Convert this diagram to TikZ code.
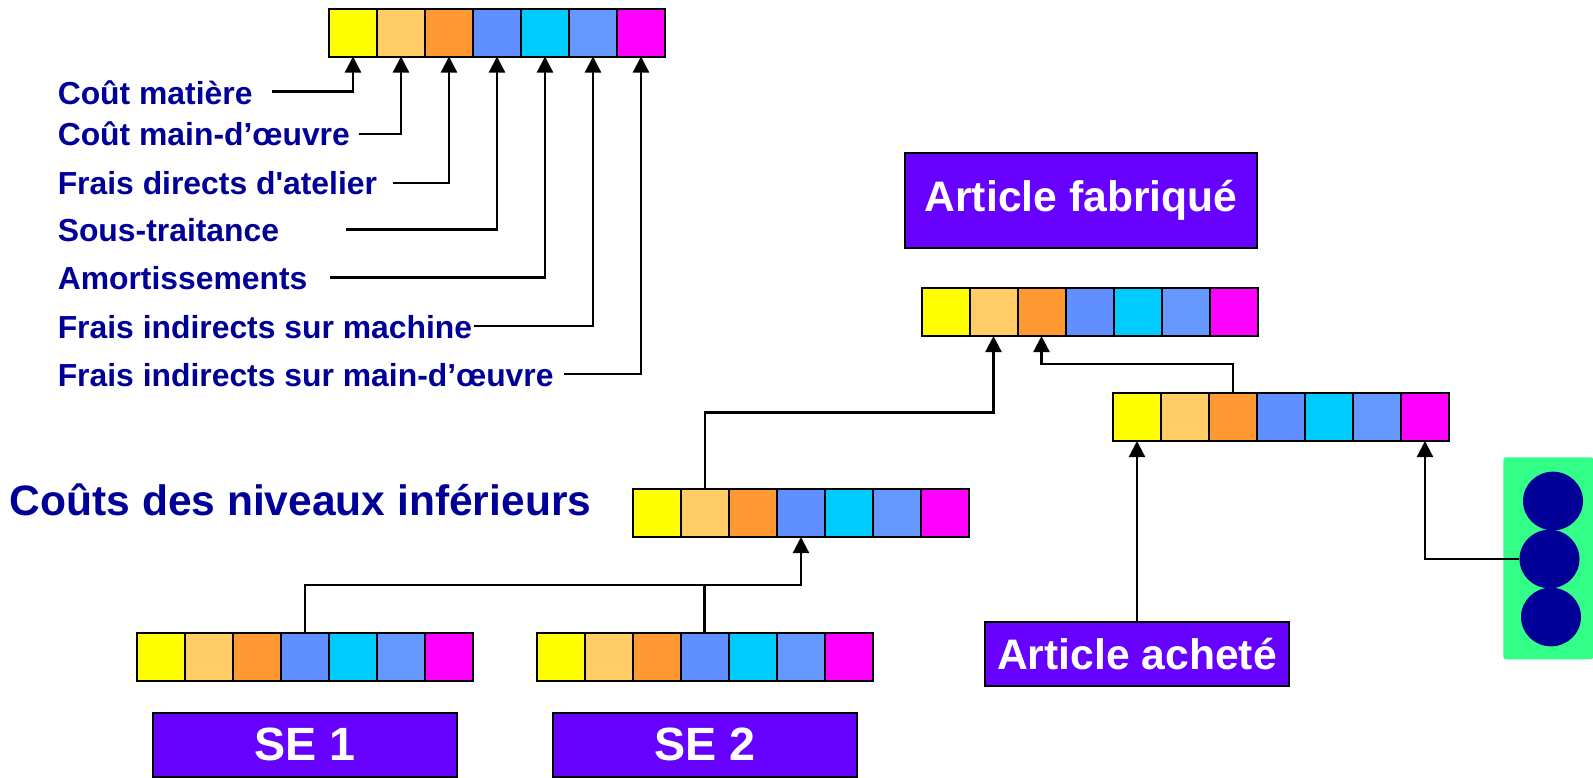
\documentclass[tikz,border=0pt]{standalone}
\usepackage{fontspec}
\setmainfont{Liberation Sans}
\usetikzlibrary{arrows.meta,shapes.geometric}
\definecolor{navytxt}{HTML}{000099}
\definecolor{violetbox}{HTML}{6600FF}
\definecolor{greenpanel}{HTML}{33FF88}
\definecolor{cA}{HTML}{FFFF00}
\definecolor{cB}{HTML}{FFCC66}
\definecolor{cC}{HTML}{FF9933}
\definecolor{cD}{HTML}{6090FF}
\definecolor{cE}{HTML}{00CCFF}
\definecolor{cF}{HTML}{6699FF}
\definecolor{cG}{HTML}{FF00FF}
\tikzset{
  cellbox/.style={draw=black,line width=1.5pt,minimum width=36pt,minimum height=36pt,inner sep=0pt,outer sep=0pt,anchor=north west},
  costlabel/.style={anchor=base west,inner sep=0pt,text=navytxt,font=\bfseries\fontsize{23.9}{24}\selectfont},
  titlelabel/.style={anchor=base west,inner sep=0pt,text=navytxt,font=\bfseries\fontsize{31.9}{32}\selectfont},
  itembox/.style={draw=black,line width=1.5pt,fill=violetbox,text=white,inner sep=0pt,outer sep=0pt,font=\bfseries\fontsize{32}{32}\selectfont},
  link/.style={line width=1.7pt,draw=black},
  linkarrow/.style={link,-{Triangle[length=12pt,width=12pt]}},
  ball/.style={ellipse,fill=navytxt,inner sep=0pt,minimum width=45pt,minimum height=44pt}
}
\newcommand{\costbar}[3]{%
  \foreach \i/\c in {1/cA,2/cB,3/cC,4/cD,5/cE,6/cF,7/cG}{
    \node[cellbox,fill=\c] (#1\i) at ({#2+48*(\i-1)},#3) {};
  }%
}
\begin{document}
\begin{tikzpicture}[x=0.75pt,y=-0.75pt]
\useasboundingbox (0,0) rectangle (1593,778);
% panel
\node[draw=none,fill=greenpanel,rounded corners=2pt,minimum width=67.5pt,minimum height=151.5pt,inner sep=0pt,anchor=north west] (panel) at (1503,457) {};
\node[ball] (b1) at (1553,501) {};
\node[ball] (b2) at (1549.5,559) {};
\node[ball] (b3) at (1551,617) {};
% bars
\costbar{T}{329}{8.5}
\costbar{F}{921.5}{288}
\costbar{A}{1113}{393}
\costbar{L}{633}{489}
\costbar{P}{137}{633}
\costbar{Q}{536.5}{633}
% boxes
\node[itembox,minimum width=264pt,minimum height=71pt] (fab) at (1081,200.5) {\raisebox{-3pt}{Article fabriqué}};
\node[itembox,minimum width=228pt,minimum height=48pt] (ach) at (1137,654) {\raisebox{-1pt}{Article acheté}};
\node[itembox,minimum width=228pt,minimum height=48pt,font=\bfseries\fontsize{35}{35}\selectfont] (se1) at (304.75,744.5) {\raisebox{-2pt}{SE 1}};
\node[itembox,minimum width=228pt,minimum height=48pt,font=\bfseries\fontsize{35}{35}\selectfont] (se2) at (705,744.5) {\raisebox{-2pt}{SE 2}};
% labels
\node[costlabel] (l1) at (57.5,104) {Coût matière};
\node[costlabel] (l2) at (57.5,145) {Coût main-d’œuvre};
\node[costlabel] (l3) at (57.5,194) {Frais directs d\textquotesingle atelier};
\node[costlabel] (l4) at (57.5,241) {Sous-traitance};
\node[costlabel] (l5) at (57.5,289) {Amortissements};
\node[costlabel] (l6) at (57.5,338) {Frais indirects sur machine};
\node[costlabel] (l7) at (57.5,386) {Frais indirects sur main-d’œuvre};
\node[titlelabel] (tit) at (9.5,515) {Coûts des niveaux inférieurs};
% connector starts
\coordinate (s1) at (272,91.5);
\coordinate (s2) at (358.5,134);
\coordinate (s3) at (393,183);
\coordinate (s4) at (345.5,229.5);
\coordinate (s5) at (330,277.5);
\coordinate (s6) at (473.5,326);
\coordinate (s7) at (564,374);
\foreach \k in {1,...,7}{
  \draw[linkarrow] (s\k) -| (T\k.south);
}
\draw[linkarrow] (L2.north) |- (F2.south |- 0,412.5) -- (F2.south);
\draw[linkarrow] (A3.north) |- (F3.south |- 0,364) -- (F3.south);
\draw[linkarrow] (P4.north) |- (L4.south |- 0,585) -- (L4.south);
\draw[link] (Q4.north) -- (Q4.north |- 0,585);
\draw[linkarrow] (ach.north) -- (A1.south);
\draw[linkarrow] (b2.west) -| (A7.south);
\end{tikzpicture}
\end{document}
